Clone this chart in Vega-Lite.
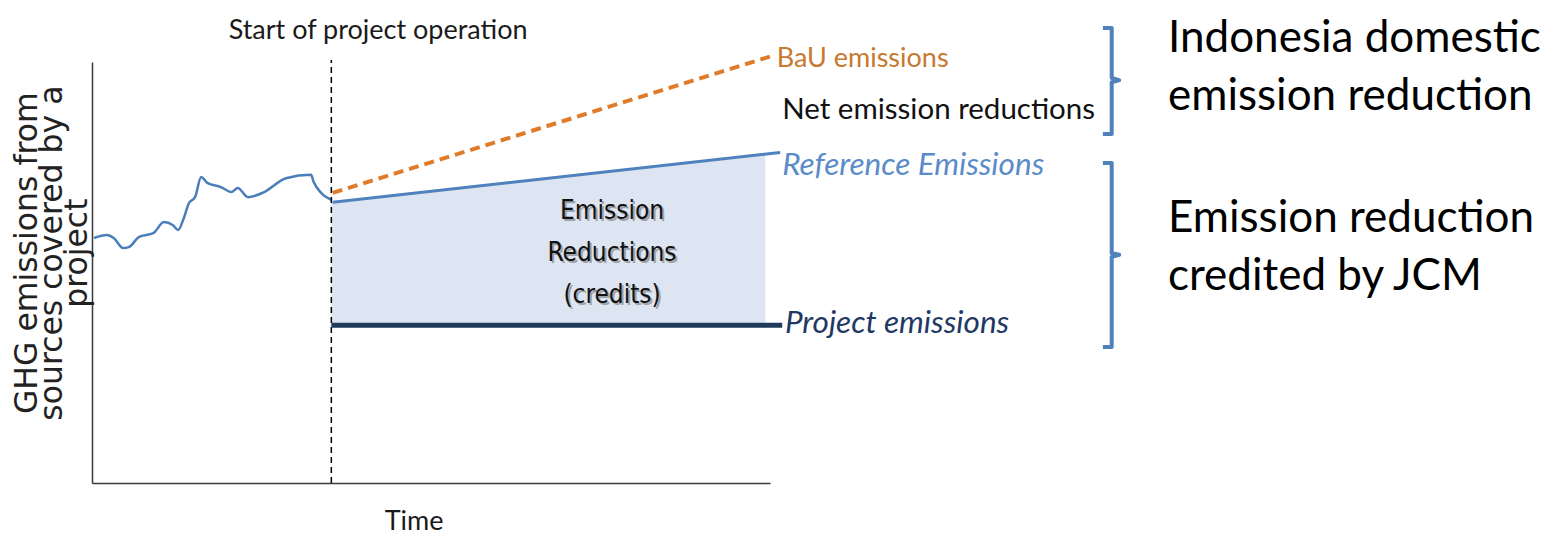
{
  "$schema": "https://vega.github.io/schema/vega-lite/v6.json",
  "width": 678,
  "height": 421,
  "autosize": {"type": "none"},
  "padding": {"left": 92, "top": 62, "right": 782, "bottom": 53},
  "background": "white",
  "config": {
    "view": {"stroke": null},
    "axis": {"grid": false, "labels": false, "ticks": false, "domainColor": "#3a3a3a", "domainWidth": 1.5}
  },
  "datasets": {
    "hist": [
      {"t": 0.3, "e": 58.2}, {"t": 2.2, "e": 58.9}, {"t": 3.2, "e": 58.2}, {"t": 4.6, "e": 55.8},
      {"t": 5.5, "e": 56.1}, {"t": 6.9, "e": 58.4}, {"t": 9.1, "e": 59.4}, {"t": 10.6, "e": 62.0},
      {"t": 11.9, "e": 61.3}, {"t": 12.7, "e": 60.1}, {"t": 13.6, "e": 63.2}, {"t": 14.3, "e": 66.5},
      {"t": 15.2, "e": 67.9}, {"t": 16.1, "e": 72.7}, {"t": 17.0, "e": 71.3}, {"t": 19.0, "e": 70.3},
      {"t": 20.6, "e": 69.1}, {"t": 21.5, "e": 70.1}, {"t": 23.0, "e": 67.9}, {"t": 25.4, "e": 69.1},
      {"t": 28.6, "e": 72.4}, {"t": 32.3, "e": 73.2}, {"t": 32.7, "e": 71.5}, {"t": 33.8, "e": 68.9},
      {"t": 35.4, "e": 67.2}
    ],
    "area": [{"t": 35.3, "e": 66.7, "e2": 37.5}, {"t": 99.3, "e": 78.3, "e2": 37.5}],
    "start": [{"t": 35.3, "e": 0, "e2": 100.5}],
    "bau": [{"t": 35.5, "e": 68.9}, {"t": 100.6, "e": 101.6}],
    "ref": [{"t": 35.5, "e": 66.7}, {"t": 101.5, "e": 78.5}],
    "proj": [{"t": 35.3, "e": 37.5}, {"t": 101.8, "e": 37.5}],
    "brackets": [
      {"g": "a", "k": 1, "t": 149.1, "e": 108.1}, {"g": "a", "k": 2, "t": 150.4, "e": 108.1},
      {"g": "a", "k": 3, "t": 150.4, "e": 96.2}, {"g": "a", "k": 4, "t": 151.5, "e": 95.7},
      {"g": "a", "k": 5, "t": 150.4, "e": 95.2}, {"g": "a", "k": 6, "t": 150.4, "e": 82.9},
      {"g": "a", "k": 7, "t": 149.1, "e": 82.9},
      {"g": "b", "k": 1, "t": 149.1, "e": 76.0}, {"g": "b", "k": 2, "t": 150.4, "e": 76.0},
      {"g": "b", "k": 3, "t": 150.4, "e": 54.6}, {"g": "b", "k": 4, "t": 151.5, "e": 54.2},
      {"g": "b", "k": 5, "t": 150.4, "e": 53.7}, {"g": "b", "k": 6, "t": 150.4, "e": 32.3},
      {"g": "b", "k": 7, "t": 149.1, "e": 32.3}
    ],
    "centerText": [
      {"t": 42.2, "e": 105.5, "label": "Start of project operation"},
      {"t": 47.5, "e": -11.2, "label": "Time"}
    ],
    "netText": [{"t": 101.8, "e": 86.5, "label": "Net emission reductions"}],
    "bauText": [{"t": 101.0, "e": 98.9, "label": "BaU emissions"}],
    "refText": [{"t": 101.8, "e": 73.2, "label": "Reference Emissions"}],
    "projText": [{"t": 102.2, "e": 35.6, "label": "Project emissions"}],
    "erText": [{"t": 76.7, "e": 64.6, "label": ["Emission", "Reductions", "(credits)"]}],
    "yTitle": [{"t": -8.1, "e": 54.6, "label": ["GHG emissions from", "sources covered by a", "project"]}],
    "rightText": [
      {"t": 158.7, "e": 102.4, "label": "Indonesia domestic"},
      {"t": 158.7, "e": 88.6, "label": "emission reduction"},
      {"t": 158.7, "e": 59.6, "label": "Emission reduction"},
      {"t": 158.7, "e": 45.8, "label": "credited by JCM"}
    ]
  },
  "encoding": {
    "x": {"field": "t", "type": "quantitative", "title": null, "scale": {"domain": [0, 100], "nice": false, "zero": false}},
    "y": {"field": "e", "type": "quantitative", "title": null, "scale": {"domain": [0, 100], "nice": false, "zero": false}}
  },
  "layer": [
    {"data": {"name": "area"}, "mark": {"type": "area", "color": "#DCE5F1", "opacity": 1}, "encoding": {"y2": {"field": "e2"}}},
    {"data": {"name": "hist"}, "mark": {"type": "line", "color": "#4A7EBB", "strokeWidth": 2.5, "interpolate": "monotone"}, "encoding": {}},
    {"data": {"name": "start"}, "mark": {"type": "rule", "color": "#000000", "strokeWidth": 1.5, "strokeDash": [6, 4]}, "encoding": {"y2": {"field": "e2"}}},
    {"data": {"name": "bau"}, "mark": {"type": "line", "color": "#E07B2A", "strokeWidth": 4, "strokeDash": [10, 6]}, "encoding": {}},
    {"data": {"name": "ref"}, "mark": {"type": "line", "color": "#4F81BD", "strokeWidth": 3}, "encoding": {}},
    {"data": {"name": "proj"}, "mark": {"type": "line", "color": "#1F3A5A", "strokeWidth": 5}, "encoding": {}},
    {"data": {"name": "brackets"}, "mark": {"type": "line", "color": "#4F81BD", "strokeWidth": 4, "strokeJoin": "round"}, "encoding": {"detail": {"field": "g"}, "order": {"field": "k", "type": "quantitative"}}},
    {"data": {"name": "centerText"}, "mark": {"type": "text", "font": "Lato", "fontSize": 27, "align": "center", "baseline": "alphabetic", "color": "#1a1a1a"}, "encoding": {"text": {"field": "label"}}},
    {"data": {"name": "netText"}, "mark": {"type": "text", "font": "Lato", "fontSize": 29.5, "align": "left", "baseline": "alphabetic", "color": "#111111"}, "encoding": {"text": {"field": "label"}}},
    {"data": {"name": "bauText"}, "mark": {"type": "text", "font": "Lato", "fontSize": 27, "align": "left", "baseline": "alphabetic", "color": "#C8782F"}, "encoding": {"text": {"field": "label"}}},
    {"data": {"name": "refText"}, "mark": {"type": "text", "font": "Lato", "fontSize": 31.5, "fontStyle": "italic", "align": "left", "baseline": "alphabetic", "color": "#5B8BC9"}, "encoding": {"text": {"field": "label"}}},
    {"data": {"name": "projText"}, "mark": {"type": "text", "font": "Lato", "fontSize": 31.5, "fontStyle": "italic", "align": "left", "baseline": "alphabetic", "color": "#1F3864"}, "encoding": {"text": {"field": "label"}}},
    {"data": {"name": "erText"}, "mark": {"type": "text", "font": "DejaVu Sans Condensed", "fontSize": 26, "lineHeight": 42, "align": "center", "baseline": "middle", "color": "#777777", "opacity": 0.6, "dx": 2, "dy": 2}, "encoding": {"text": {"field": "label"}}},
    {"data": {"name": "erText"}, "mark": {"type": "text", "font": "DejaVu Sans Condensed", "fontSize": 26, "lineHeight": 42, "align": "center", "baseline": "middle", "color": "#111111"}, "encoding": {"text": {"field": "label"}}},
    {"data": {"name": "yTitle"}, "mark": {"type": "text", "font": "DejaVu Sans", "fontSize": 31.5, "lineHeight": 25, "angle": 270, "align": "center", "baseline": "alphabetic", "color": "#222222"}, "encoding": {"text": {"field": "label"}}},
    {"data": {"name": "rightText"}, "mark": {"type": "text", "font": "Lato", "fontSize": 44, "align": "left", "baseline": "alphabetic", "color": "#000000"}, "encoding": {"text": {"field": "label"}}}
  ]
}
